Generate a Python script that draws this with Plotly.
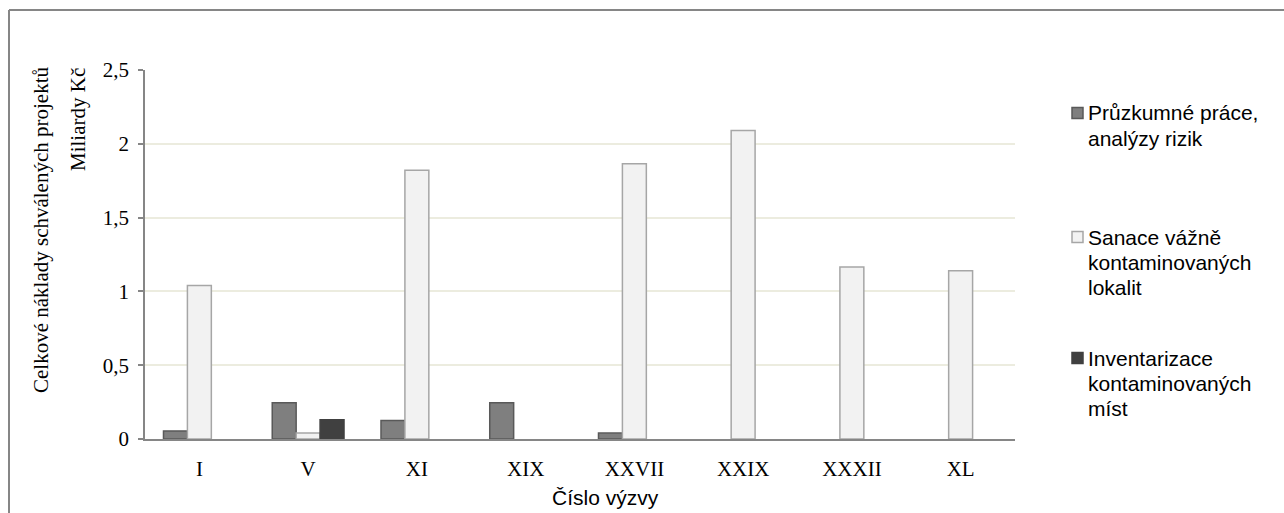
import plotly.graph_objects as go

# Call numbers (Roman numerals) and costs in billions CZK; None = no projects
vyzvy = ["I", "V", "XI", "XIX", "XXVII", "XXIX", "XXXII", "XL"]
pruzkumne = [0.055, 0.245, 0.125, 0.245, 0.04, None, None, None]
sanace = [1.04, 0.04, 1.82, None, 1.865, 2.09, 1.165, 1.14]
inventarizace = [None, 0.13, None, None, None, None, None, None]

series_names = [
    ["Průzkumné práce,", "analýzy rizik"],
    ["Sanace vážně", "kontaminovaných", "lokalit"],
    ["Inventarizace", "kontaminovaných", "míst"],
]

W, H = 1284, 513
L, R, T, B = 145, 1015, 70, 439  # plot area in pixels

SERIF = "Liberation Serif, Times New Roman, serif"
SANS = "Liberation Sans, Arial, sans-serif"


def px_x(x):
    return (x - L) / (R - L)


def px_y(y):
    return (B - y) / (B - T)


styles = [
    dict(color="#7f7f7f", line=dict(color="#595959", width=1.5)),
    dict(color="#f2f2f2", line=dict(color="#a6a6a6", width=1.5)),
    dict(color="#404040", line=dict(color="#404040", width=1.5)),
]

fig = go.Figure()
for i, vals in enumerate([pruzkumne, sanace, inventarizace]):
    fig.add_trace(go.Bar(
        x=vyzvy, y=vals, name=" ".join(series_names[i]), marker=styles[i],
        showlegend=False,
    ))

fig.update_layout(
    width=W, height=H,
    margin=dict(l=L, r=W - R, t=T, b=H - B, autoexpand=False),
    paper_bgcolor="white", plot_bgcolor="white",
    separators=", ",
    barmode="group", bargap=0.34, bargroupgap=0,
    xaxis=dict(
        showline=True, linecolor="#868686", linewidth=1.5,
        showgrid=False, ticks="", ticklabelstandoff=10,
        tickfont=dict(family=SERIF, size=21, color="#000"),
    ),
    yaxis=dict(
        range=[0, 2.5], dtick=0.5, showline=True, linecolor="#868686", linewidth=1.5,
        ticks="outside", ticklen=5, tickcolor="#868686", tickwidth=1.5,
        ticklabelstandoff=5,
        showgrid=True, gridcolor="#ececdf", gridwidth=1.5, zeroline=False,
        tickfont=dict(family=SERIF, size=21, color="#000"),
    ),
)

# Axis titles
title_common = dict(xref="paper", yref="paper", showarrow=False,
                    xanchor="center", yanchor="middle")
fig.add_annotation(
    text="Celkové náklady schválených projektů", textangle=-90,
    x=px_x(41), y=px_y(230),
    font=dict(family=SERIF, size=21, color="#000"), **title_common,
)
fig.add_annotation(
    text="Miliardy Kč", textangle=-90,
    x=px_x(78), y=px_y(120),
    font=dict(family=SERIF, size=21, color="#000"), **title_common,
)
fig.add_annotation(
    text="Číslo výzvy",
    x=px_x(605), y=px_y(497),
    font=dict(family=SANS, size=21, color="#000"), **title_common,
)

# Legend: one swatch per series with its wrapped label, evenly spaced slots
legend_top = [113, 237, 358]
line_h = 25
for i, lines in enumerate(series_names):
    y0 = legend_top[i]
    st = styles[i]
    fig.add_shape(
        type="rect", xref="paper", yref="paper",
        x0=px_x(1072), x1=px_x(1083), y0=px_y(y0 - 5.5), y1=px_y(y0 + 5.5),
        fillcolor=st["color"], line=dict(color=st["line"]["color"], width=1.5),
    )
    for j, txt in enumerate(lines):
        fig.add_annotation(
            text=txt, xref="paper", yref="paper",
            x=px_x(1086), y=px_y(y0 + j * line_h), xanchor="left", yanchor="middle",
            showarrow=False, font=dict(family=SANS, size=21, color="#000"),
        )

# Chart frame (top and left edges)
frame = dict(type="line", xref="paper", yref="paper", line=dict(color="#868686", width=2))
fig.add_shape(x0=px_x(9), x1=px_x(W + 5), y0=px_y(10), y1=px_y(10), **frame)
fig.add_shape(x0=px_x(9), x1=px_x(9), y0=px_y(10), y1=px_y(H + 5), **frame)

fig.write_html("out.html")
